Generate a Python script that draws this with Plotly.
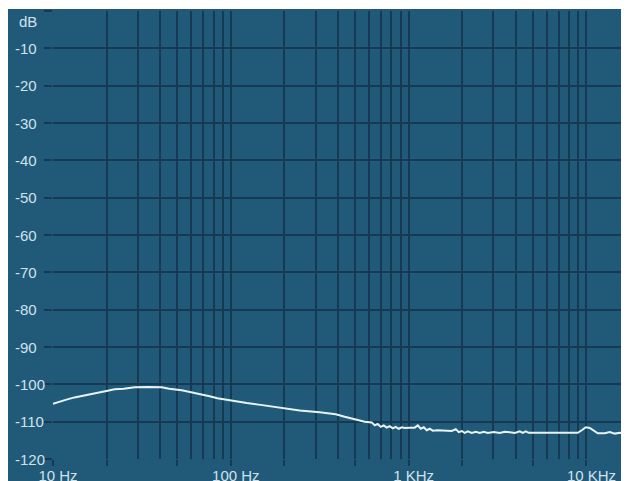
import plotly.graph_objects as go
import numpy as np

# ---- data ----
freq_hz = [10, 10.6, 11.9, 13.2, 14.7, 16.5, 18.3, 20.3, 22.2, 25, 28.8, 34, 40.8, 45, 53, 60,
           68, 76, 84, 94, 105, 123, 147, 172, 201, 244, 316, 389, 437, 497, 566,
           620, 645, 670, 697, 724, 753, 783, 814, 846, 880, 915, 951, 1014, 1082, 1125,
           1170, 1216, 1264, 1315, 1366, 1458, 1596, 1748, 1841, 1913, 1989, 2068, 2149,
           2264, 2385, 2511, 2645, 2786, 3010, 3253, 3472, 3704, 3954, 4216, 4382, 4556,
           4737, 5463, 7076, 8934, 9410, 9911, 10438, 10994, 11578, 12676, 13522, 14428,
           15392, 16423, 17290, 18500, 20000]
level_db = [-105.2, -104.8, -104.1, -103.5, -103.0, -102.6, -102.1, -101.7, -101.3, -101.2,
            -100.8, -100.7, -100.8, -101.2, -101.6, -102.1, -102.7, -103.2, -103.7, -104.1,
            -104.6, -105.0, -105.5, -106.0, -106.5, -107.0, -107.5, -108.0, -108.7, -109.4,
            -110.0, -110.2, -111.0, -110.6, -111.4, -111.0, -111.6, -111.2, -111.8, -111.4,
            -111.9, -111.5, -111.7, -111.6, -111.6, -111.0, -111.9, -111.5, -112.3, -111.9,
            -112.4, -112.3, -112.4, -112.5, -112.0, -112.8, -112.5, -113.0, -112.6, -113.0,
            -112.7, -113.0, -112.7, -113.0, -112.8, -113.0, -112.7, -112.8, -113.0, -112.6,
            -113.0, -112.6, -113.0, -113.0, -113.0, -113.0, -112.3, -111.5, -111.7, -112.5,
            -113.1, -113.1, -112.8, -113.2, -113.0, -113.2, -113.0, -113.1, -113.0]

x_tick_vals = [10, 20, 50, 100, 200, 500, 1000, 2000, 5000, 10000]
x_tick_text = ["10 Hz", "", "", "100 Hz", "", "", "1 KHz", "", "", "10 KHz"]
x_minor_vals = [30, 40, 60, 70, 80, 90, 300, 400, 600, 700, 800, 900,
                3000, 4000, 6000, 7000, 8000, 9000]
y_tick_vals = [-10, -20, -30, -40, -50, -60, -70, -80, -90, -100, -110, -120]
y_tick_text = ["-10", "-20", "-30", "-40", "-50", "-60", "-70", "-80", "-90", "-100", "-110", "-120"]
y_unit = "dB"

# ---- style ----
BG = "#215a78"
GRID = "#163a53"
TXT = "#cfe2ec"
FONT = "Liberation Sans, Arial, sans-serif"

W, H = 632, 481
ML, MR, MT, MB = 45, 0, 3, 30
PW, PH = W - ML - MR, H - MT - MB

fig = go.Figure()
fig.add_trace(go.Scatter(x=freq_hz, y=level_db, mode="lines",
                         line=dict(color="#e8f3f7", width=2), hoverinfo="skip"))

fig.update_layout(
    width=W, height=H, template="none",
    margin=dict(l=ML, r=MR, t=MT, b=MB, pad=0),
    paper_bgcolor=BG, plot_bgcolor=BG,
    showlegend=False,
    font=dict(family=FONT, size=15, color=TXT),
)
fig.update_xaxes(
    type="log", range=[1, np.log10(20000)], automargin=False,
    tickmode="array", tickvals=x_tick_vals, ticktext=x_tick_text,
    ticks="outside", ticklen=6, tickwidth=2, tickcolor=GRID,
    ticklabelstandoff=-3, ticklabelshift=5,
    showgrid=True, gridcolor=GRID, gridwidth=2,
    minor=dict(tickmode="array", tickvals=x_minor_vals, showgrid=True,
               gridcolor=GRID, gridwidth=2, ticks=""),
    showline=False, zeroline=False,
    tickfont=dict(family=FONT, size=15, color=TXT),
)
fig.update_yaxes(
    range=[-120, 0], automargin=False,
    tickmode="array", tickvals=y_tick_vals + [0], showticklabels=False,
    ticks="outside", ticklen=8, tickwidth=2, tickcolor=GRID,
    showgrid=True, gridcolor=GRID, gridwidth=2,
    showline=False, zeroline=False,
)

# y labels (left aligned)
for v, t in zip(y_tick_vals, y_tick_text):
    fig.add_annotation(x=(5 - ML) / PW, xref="paper", y=v, yref="y", text=t,
                       showarrow=False, xanchor="left", yanchor="middle",
                       font=dict(family=FONT, size=15, color=TXT))
fig.add_annotation(x=(8.5 - ML) / PW, xref="paper", y=-2.7, yref="y", text=y_unit,
                   showarrow=False, xanchor="left", yanchor="middle",
                   font=dict(family=FONT, size=15, color=TXT))

# thin white strip at very top
fig.add_shape(type="rect", xref="paper", yref="paper", layer="above",
              x0=-ML / PW - 0.01, x1=1.01, y0=1 + (MT - 1) / PH, y1=1 + (MT + 3) / PH,
              fillcolor="white", line=dict(width=0))

fig.write_html("out.html")
